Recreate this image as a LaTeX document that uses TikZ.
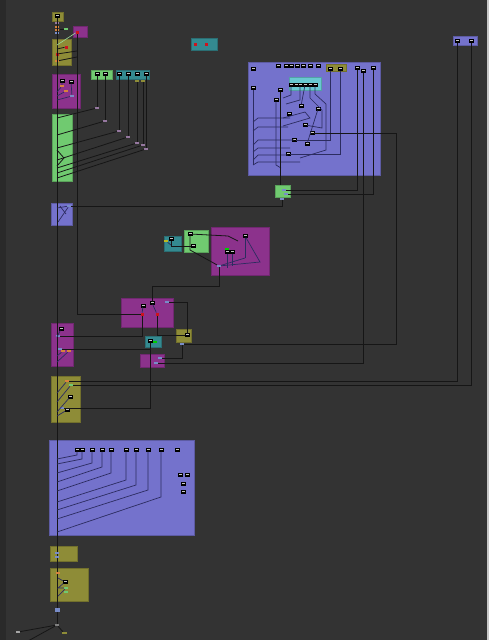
\documentclass[tikz,border=0pt]{standalone}
\usetikzlibrary{positioning, calc}
\definecolor{NGBack}{RGB}{51,51,51}
\definecolor{NGRim}{RGB}{42,42,42}
\definecolor{NGLite}{RGB}{200,200,200}
\definecolor{NGOlive}{RGB}{142,140,55}
\definecolor{NGMagenta}{RGB}{140,50,140}
\definecolor{NGGreen}{RGB}{112,202,112}
\definecolor{NGTeal}{RGB}{52,138,144}
\definecolor{NGBlue}{RGB}{116,114,204}
\definecolor{NGCyan}{RGB}{104,200,208}
\definecolor{NGWire}{RGB}{22,22,22}
\definecolor{NGNavy}{RGB}{44,44,96}
\definecolor{NGRed}{RGB}{205,20,30}
\definecolor{NGPort}{RGB}{200,200,200}
\definecolor{NGOrange}{RGB}{215,130,60}
\definecolor{NGChip}{RGB}{120,140,200}
\definecolor{NGMauve}{RGB}{150,120,160}

\begin{document}
\begin{tikzpicture}[x=1pt, y=-1pt,
    frm/.style={rectangle, anchor=north west, inner sep=0pt, outer sep=0pt,
                fill=#1, draw=#1!80!black, line width=0.5pt},
    port/.style={rectangle, inner sep=0pt, outer sep=0pt, minimum width=4.5pt,
                 minimum height=3pt, fill=NGPort, draw=black, line width=0.45pt,
                 path picture={\draw[black, line width=0.8pt]
                   (path picture bounding box.west) -- (path picture bounding box.east);}},
    chip/.style={rectangle, inner sep=0pt, outer sep=0pt, minimum width=4pt,
                 minimum height=2.5pt, fill=#1},
    rdot/.style={rectangle, inner sep=0pt, outer sep=0pt, minimum size=3pt,
                 fill=NGRed},
    wire/.style={draw=NGWire, line width=0.8pt},
    lnk/.style={draw=NGNavy, line width=0.7pt}
  ]

  %--- canvas ---
  \fill[NGBack] (0,0) rectangle (489,640);
  \fill[NGRim] (0,0) rectangle (6,640);
  \fill[NGLite] (487,0) rectangle (489,640);
  \useasboundingbox (0,0) rectangle (489,640);

  %--- frames ---
  \foreach \nm/\col/\x/\y/\w/\h in {
      olTop/NGOlive/52/12/11/9, mgTop/NGMagenta/73/26/14/11,
      olA/NGOlive/52/39/19/26, mgA/NGMagenta/52/74/28/34,
      grA/NGGreen/91/70/21/9, tlA/NGTeal/116/70/33/9,
      grB/NGGreen/52/114/20/67, tlB/NGTeal/191/38/26/12,
      blBig/NGBlue/248/62/132/113, cySub/NGCyan/289/77/32/13,
      olSub/NGOlive/326/64/20/7, blTR/NGBlue/453/36/24/9,
      grC/NGGreen/275/185/15/12, blA/NGBlue/51/203/21/22,
      tlC/NGTeal/164/236/17/15, grD/NGGreen/184/230/24/22,
      mgBig/NGMagenta/211/227/58/48, mgB/NGMagenta/121/298/52/29,
      mgC/NGMagenta/51/323/22/43, tlD/NGTeal/145/336/16/11,
      olB/NGOlive/176/329/15/13, mgD/NGMagenta/140/354/24/13,
      olC/NGOlive/51/376/29/46, blLow/NGBlue/49/440/145/95,
      olD/NGOlive/50/546/27/15, olE/NGOlive/50/568/38/33} {
    \node[frm=\col, minimum width=\w, minimum height=\h] (\nm) at (\x,\y) {};
  }

  %--- ports, top column ---
  \node[port] (p01) at (57,16) {};
  \foreach \i/\y/\col in {1/23/NGMauve, 2/27/NGOrange, 3/30/NGOrange, 4/33/NGChip}
    \node[chip=\col] (sp\i) at (57,\y) {};
  \node[chip=NGGreen] (sp5) at (66,29) {};
  \node[rdot] (r02) at (77,32) {};
  \node[rdot] (r03a) at (66,47) {};
  \node[rdot] (r03b) at (57,54) {};
  \node[chip=NGOrange] (c03) at (57,61) {};
  \node[port] (p04a) at (62,81) {};
  \node[port] (p04b) at (71,82) {};
  \node[chip=NGOrange] (c04a) at (62,86) {};
  \node[chip=NGOrange] (c04b) at (66,91) {};
  \node[chip=NGChip] (c04c) at (72,96) {};
  \node[port] (p05a) at (97,74) {};
  \node[port] (p05b) at (105,74) {};
  \foreach \i/\x in {a/119, b/128, c/137, d/146}
    \node[port] (p06\i) at (\x,74) {};
  \node[chip=NGOlive] (c06x) at (137,81) {};
  \node[chip=NGOlive] (c06y) at (143,81) {};
  \foreach \nm/\x/\y in {c05a/97/108, c05b/105/121, c06a/119/131, c06b/128/137,
                         c06c/137/143, c06d/143/145, c06e/146/149}
    \node[chip=NGMauve] (\nm) at (\x,\y) {};
  \node[rdot] (r08a) at (195,44) {};
  \node[rdot] (r08b) at (206,44) {};

  %--- ports, big blue frame ---
  \foreach \x in {278,286,291,297,303,310,318}
    \node[port] (q\x) at (\x,66) {};
  \foreach \i/\x in {1/291, 2/296, 3/300, 4/305, 5/310, 6/315}
    \node[port, minimum width=4] (cy\i) at (\x,85) {};
  \node[port] (po1) at (330,69) {};
  \node[port] (po2) at (340,69) {};
  \node[port] (pr1) at (357,68) {};
  \node[port] (pr2) at (363,71) {};
  \node[port] (pr3) at (373,68) {};
  \foreach \nm/\x/\y in {p9L1/253/69, p9L2/253/88, p9a/280/90, p9b/276/100,
                         p9c/301/106, p9d/318/109, p9f/289/114, p9e/305/125,
                         p9m/312/133, p9k/294/140, p9g/307/144, p9h/288/154}
    \node[port] (\nm) at (\x,\y) {};
  \node[port] (p10a) at (457,41) {};
  \node[port] (p10b) at (471,41) {};
  \node[chip=NGChip] (p11a) at (284,190) {};
  \node[chip=NGChip] (p11b) at (286,194) {};
  \node[chip=NGChip] (c11) at (282,199) {};

  %--- ports, middle ---
  \node[chip=NGChip] (c12) at (69,206) {};
  \node[port] (p13a) at (171,239) {};
  \node[chip=NGOlive!60!yellow] (c13a) at (166,241) {};
  \node[port] (p14a) at (190,234) {};
  \node[port] (p14b) at (193,246) {};
  \node[port] (p15a) at (245,236) {};
  \node[chip=green!80!black] (c15g) at (227,249) {};
  \node[port] (p15b) at (227,252) {};
  \node[port] (p15c) at (232,252) {};
  \node[chip=NGChip] (c15a) at (219,266) {};
  \node[port] (p16a) at (152,303) {};
  \node[port] (p16b) at (143,306) {};
  \node[chip=NGChip] (p16c) at (167,302) {};
  \node[rdot] (r16a) at (142,314) {};
  \node[rdot] (r16b) at (157,314) {};
  \node[port] (p17a) at (61,329) {};
  \node[chip=NGChip] (c17a) at (58,336) {};
  \node[chip=NGChip] (c17b) at (60,349) {};
  \node[chip=NGOrange] (c17c) at (63,351) {};
  \node[chip=NGOrange] (c17d) at (69,351) {};
  \node[port] (p18a) at (150,341) {};
  \node[chip=green!80!black] (c18) at (155,342) {};
  \node[port] (p19a) at (187,335) {};
  \node[chip=NGChip] (c19) at (182,344) {};
  \node[chip=NGChip] (c20a) at (156,363) {};
  \node[chip=NGChip] (c20b) at (160,358) {};
  \node[chip=NGOrange] (c21a) at (67,381) {};
  \node[chip=NGGreen] (c21b) at (71,385) {};
  \node[port] (p21a) at (70,397) {};
  \node[port] (p21b) at (67,410) {};
  \node[chip=NGChip] (c21c) at (62,408) {};

  %--- wires, top column ---
  \draw[wire] (p01) -- (57,625) coordinate (spEnd);
  \draw[wire] (sp5) -- (60,29);
  \draw[draw=NGGreen!70!white, line width=0.6pt] (r02) -- (57,45);
  \draw[wire] (r03b) -- (77,51);
  \draw[wire] (c03) -- (77,57);
  \draw[wire] (r03a) -- (57,49);
  \draw[lnk] (p04a) -- (c04a) -- (57,92);
  \draw[lnk] (p04b) -- (c04c) -- (57,100);
  \draw[lnk] (c04b) -- (57,96);
  \draw[wire] (p05a) -- (c05a);
  \draw[wire] (p05b) -- (c05b);
  \draw[wire] (p06a) -- (c06a);
  \draw[wire] (p06b) -- (c06b);
  \draw[wire] (c06x) -- (c06c);
  \draw[wire] (c06y) -- (c06d);
  \draw[wire] (p06d) -- (c06e);
  \foreach \nm/\y in {c05a/118, c05b/135, c06a/148, c06b/160, c06c/168, c06d/173, c06e/178}
    \draw[wire] (\nm) -- (57,\y);
  \draw[wire] (57,150) -- (64,158) -- (57,166);

  %--- wires, big blue frame ---
  \draw[lnk] (p9L2) -- (253,165);
  \foreach \ya/\yb/\xe in {122/118/290, 131/127/288, 145/140/294,
                           152/148/290, 160/155/288, 165/162/300}
    \draw[lnk] (253,\ya) -- (258,\yb) -- (\xe,\yb);
  \draw[lnk] (p9b) -- (276,165) -- (281,168);
  \draw[lnk] (cy1) -- (291,95) -- (283,98);
  \draw[lnk] (cy3) -- (300,100) -- (286,104);
  \draw[lnk] (cy4) -- (p9c);
  \draw[lnk] (cy5) -- (310,98) -- (322,110) -- (322,128) -- (p9e);
  \draw[lnk] (cy6) -- (315,94) -- (326,104) -- (326,150) -- (300,158);
  \draw[lnk] (po1) |- (p9k);
  \draw[lnk] (po2) |- (p9h);
  \draw[lnk] (283,118) -- (305,112) -- (310,118) -- (283,126);
  \draw[lnk] (p9d) -- (p9g);
  \draw[wire] (p9a) -- (p9a |- grC.north);

  %--- long wires ---
  \draw[wire] (pr1) |- (p11a);
  \draw[wire] (pr3) |- (p11b);
  \draw[wire] (pr2) |- (c20a);
  \draw[wire] (p9m) -- (396,133) |- (c19);
  \draw[wire] (p10a) |- (c21a);
  \draw[wire] (p10b) |- (c21b);
  \draw[wire] (c11) |- (c12);
  \draw[wire] (r02) |- (r16a);

  %--- middle cluster ---
  \draw[lnk] (57,208) -- (c12) -- (58,222);
  \draw[lnk] (60,206) -- (66,214);
  \draw[wire] (p13a) -- (171,246) -- (p14b);
  \draw[lnk] (c13a) -- (171,245);
  \draw[wire] (p14a) -- (190,250) -- (c15a);
  \draw[wire] (p14a) -- (228,236) -- (238,241);
  \draw[lnk] (p15a) -- (245,258);
  \draw[lnk] (p15a) -- (260,262) -- (c15a);
  \draw[lnk] (p15b) -- (227,268);
  \draw[lnk] (p15c) -- (232,266);
  \draw[lnk] (c15a) -- (245,258);
  \draw[wire] (c15a) -- ++(0,20) -| (p16a);
  \draw[lnk] (p16b) -- (r16a);
  \draw[lnk] (p16a) -- (r16b);
  \draw[wire] (r16a) |- (c17a);
  \draw[wire] (r16b) |- (p19a);
  \draw[wire] (p16c) -| (p19a);
  \draw[wire] (c17b) -| (p18a);
  \draw[wire] (p18a) |- (c21c);
  \draw[wire] (c19) |- (c20b);
  \draw[lnk] (p17a) -- (57,337);
  \draw[lnk] (57,356) -- (c17c);
  \draw[lnk] (57,362) -- (c17d);
  \draw[lnk] (57,393) -- (c21a);
  \draw[lnk] (57,402) -- (c21b);
  \draw[lnk] (57,412) -- (p21a);
  \draw[lnk] (p21b) -- (57,416);

  %--- lower blue frame ---
  \foreach \i/\x/\yb/\ye in {1/77/455/459, 2/82/459/464, 3/92/463/473,
                             4/102/467/482, 5/111/473/491, 6/126/480/502,
                             7/136/485/510, 8/148/490/519, 9/161/497/532} {
    \node[port] (lw\i) at (\x,450) {};
    \draw[lnk] (lw\i) -- (\x,\yb) -- (57,\ye);
  }
  \node[port] (lw10) at (177,450) {};
  \foreach \i/\x/\y in {a/180/475, b/187/475, c/183/484, d/183/492}
    \node[port] (lr\i) at (\x,\y) {};

  %--- bottom ---
  \node[chip=NGChip] (c23a) at (57,553) {};
  \node[chip=NGChip] (c23b) at (57,557) {};
  \node[chip=NGOrange] (c24a) at (58,573) {};
  \node[port] (p24a) at (65,582) {};
  \node[chip=NGGreen] (c24b) at (66,588) {};
  \node[chip=NGGreen] (c24c) at (66,592) {};
  \draw[lnk] (58,578) -- (p24a) -- (58,588) -- (c24b) -- (58,596);
  \node[chip=NGChip, minimum width=5, minimum height=4] (c25) at (57,610) {};
  \node[chip=gray] (tail) at (spEnd) {};
  \node[chip=gray!70] (p26a) at (18,632) {};
  \node[chip=NGOlive, minimum width=5] (c26b) at (64,633) {};
  \coordinate (c26c) at (28,641);
  \draw[wire] (tail) -- (p26a);
  \draw[wire] (tail) -- (c26b);
  \draw[wire] (tail) -- (c26c);
\end{tikzpicture}
\end{document}
